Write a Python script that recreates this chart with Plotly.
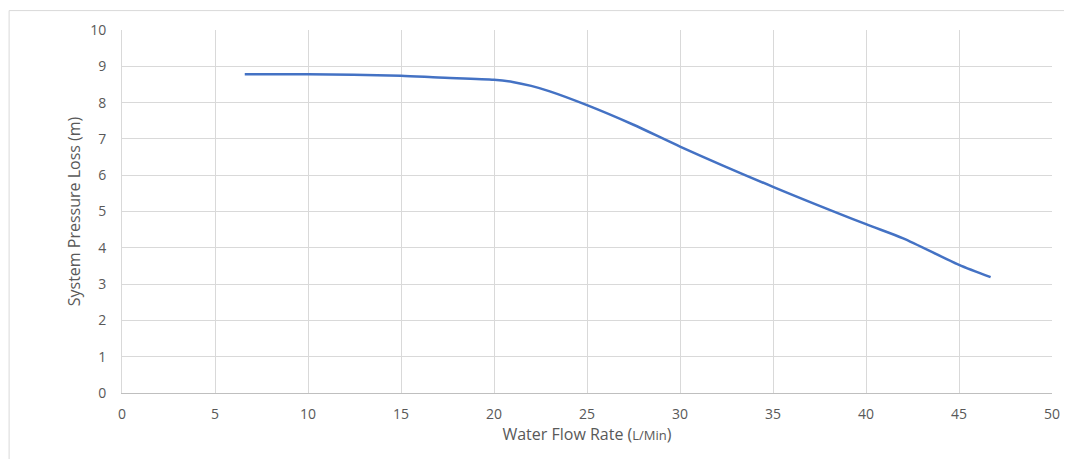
import plotly.graph_objects as go

flow_rate = [6.6, 10, 15, 17, 20, 21, 22, 23, 25, 27.5, 30, 35, 40, 42, 45, 46.7]
pressure_loss = [8.78, 8.78, 8.74, 8.69, 8.63, 8.57, 8.46, 8.31, 7.93, 7.39, 6.79, 5.68, 4.65, 4.26, 3.53, 3.19]

x_ticks = [0, 5, 10, 15, 20, 25, 30, 35, 40, 45, 50]
y_ticks = [0, 1, 2, 3, 4, 5, 6, 7, 8, 9, 10]

font_family = "Open Sans, Lato, sans-serif"
text_color = "#595959"
grid_color = "#d9d9d9"

fig = go.Figure()
fig.add_trace(go.Scatter(
    x=flow_rate, y=pressure_loss, mode="lines",
    line=dict(color="#4472C4", width=2.5, shape="spline", smoothing=0.7),
    showlegend=False, hoverinfo="x+y",
))

# page body has an 8px margin, so the figure is shifted by 8px
fig.update_layout(
    width=1064, height=451,
    margin=dict(l=114, r=19, t=20, b=66),
    paper_bgcolor="white", plot_bgcolor="white",
    font=dict(family=font_family, size=14, color=text_color),
    xaxis=dict(
        range=[0, 50], tickvals=x_ticks, showgrid=True, gridcolor=grid_color, gridwidth=1,
        zeroline=False, showline=True, linecolor="#bfbfbf", linewidth=1,
        ticks="", ticklabelstandoff=8, tickfont=dict(size=14, color=text_color),
        title=dict(text="Water Flow Rate (<span style='font-size:13px'>L/Min</span>)",
                   font=dict(size=16, color=text_color), standoff=5),
    ),
    yaxis=dict(
        range=[0, 10], tickvals=y_ticks, showgrid=True, gridcolor=grid_color, gridwidth=1,
        zeroline=False, showline=True, linecolor=grid_color, linewidth=1,
        ticks="", ticklabelstandoff=12, tickfont=dict(size=14, color=text_color),
        title=dict(text="System Pressure Loss (m)", font=dict(size=16, color=text_color), standoff=5),
    ),
    shapes=[dict(
        type="rect", xref="paper", yref="paper",
        x0=-0.1214, x1=1.1, y0=-0.3, y1=1.0535,
        line=dict(color="#d9d9d9", width=1), fillcolor="rgba(0,0,0,0)", layer="below",
    )],
)

fig.write_html("out.html")
